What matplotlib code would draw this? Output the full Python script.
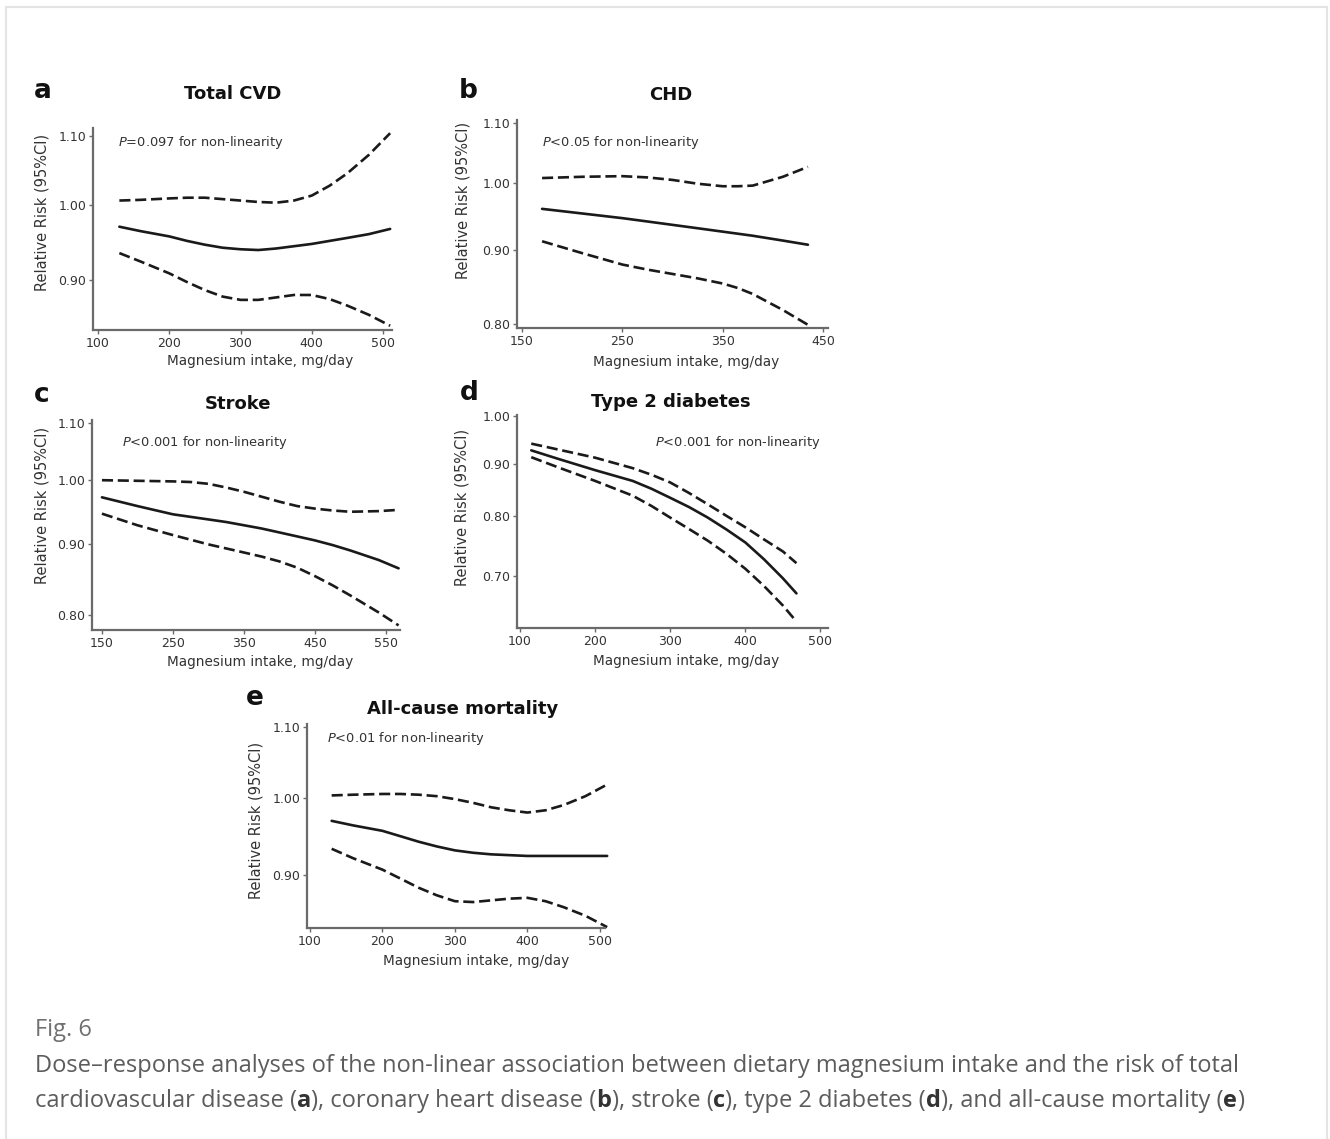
import matplotlib
matplotlib.use("Agg")
import matplotlib.pyplot as plt
from matplotlib.patches import Rectangle
from matplotlib.ticker import FixedLocator, NullLocator, FixedFormatter

W, H = 1330, 1139
plt.rcParams['font.family'] = ['DejaVu Sans']
plt.rcParams['mathtext.fontset'] = 'custom'
plt.rcParams['mathtext.it'] = 'DejaVu Sans:italic'
plt.rcParams['mathtext.rm'] = 'DejaVu Sans'

# ---------------- data ----------------
a_x = [130, 160, 200, 225, 250, 275, 300, 325, 350, 375, 400, 425, 450, 480, 510]
a_rr = [0.970, 0.964, 0.957, 0.951, 0.946, 0.942, 0.940, 0.939, 0.941, 0.944, 0.947, 0.951, 0.955, 0.960, 0.967]
a_hi = [1.006, 1.007, 1.009, 1.010, 1.010, 1.008, 1.006, 1.004, 1.003, 1.006, 1.013, 1.027, 1.045, 1.072, 1.105]
a_lo = [0.935, 0.924, 0.909, 0.898, 0.888, 0.880, 0.876, 0.876, 0.879, 0.882, 0.882, 0.877, 0.869, 0.858, 0.845]

b_x = [170, 210, 250, 275, 300, 325, 350, 365, 380, 410, 435]
b_rr = [0.960, 0.953, 0.946, 0.941, 0.936, 0.931, 0.926, 0.923, 0.920, 0.913, 0.907]
b_hi = [1.008, 1.010, 1.011, 1.009, 1.005, 0.999, 0.995, 0.995, 0.996, 1.010, 1.026]
b_lo = [0.912, 0.895, 0.879, 0.872, 0.866, 0.860, 0.853, 0.847, 0.839, 0.818, 0.799]

c_x = [150, 200, 250, 275, 300, 325, 350, 375, 400, 425, 450, 475, 500, 540, 568]
c_rr = [0.972, 0.958, 0.945, 0.941, 0.937, 0.933, 0.928, 0.923, 0.917, 0.911, 0.905, 0.898, 0.890, 0.876, 0.864]
c_hi = [1.000, 0.999, 0.998, 0.997, 0.994, 0.988, 0.981, 0.973, 0.965, 0.958, 0.954, 0.951, 0.949, 0.950, 0.952]
c_lo = [0.946, 0.928, 0.913, 0.906, 0.899, 0.893, 0.887, 0.881, 0.874, 0.865, 0.853, 0.840, 0.826, 0.803, 0.786]

d_x = [115, 150, 200, 250, 275, 300, 325, 350, 375, 400, 425, 450, 468]
d_rr = [0.927, 0.910, 0.887, 0.866, 0.851, 0.834, 0.817, 0.798, 0.777, 0.755, 0.727, 0.697, 0.674]
d_hi = [0.941, 0.929, 0.912, 0.891, 0.878, 0.863, 0.843, 0.822, 0.801, 0.781, 0.760, 0.740, 0.721]
d_lo = [0.913, 0.893, 0.866, 0.838, 0.819, 0.798, 0.778, 0.758, 0.736, 0.712, 0.685, 0.656, 0.633]

e_x = [130, 160, 200, 225, 250, 275, 300, 325, 350, 375, 400, 425, 450, 480, 510]
e_rr = [0.969, 0.963, 0.956, 0.949, 0.942, 0.936, 0.931, 0.928, 0.926, 0.925, 0.924, 0.924, 0.924, 0.924, 0.924]
e_hi = [1.003, 1.004, 1.005, 1.005, 1.004, 1.002, 0.998, 0.993, 0.987, 0.983, 0.980, 0.983, 0.990, 1.002, 1.018]
e_lo = [0.933, 0.921, 0.907, 0.896, 0.885, 0.876, 0.869, 0.868, 0.870, 0.872, 0.873, 0.869, 0.862, 0.852, 0.839]

letters = ['a', 'b', 'c', 'd', 'e']
titles = ['Total CVD', 'CHD', 'Stroke', 'Type 2 diabetes', 'All-cause mortality']
pvals = ['=0.097', '<0.05', '<0.001', '<0.001', '<0.01']
xticks_all = [[100, 200, 300, 400, 500], [150, 250, 350, 450],
              [150, 250, 350, 450, 550], [100, 200, 300, 400, 500],
              [100, 200, 300, 400, 500]]
yticks_all = [[0.90, 1.00, 1.10], [0.80, 0.90, 1.00, 1.10],
              [0.80, 0.90, 1.00, 1.10], [0.70, 0.80, 0.90, 1.00],
              [0.90, 1.00, 1.10]]
xlabel = 'Magnesium intake, mg/day'
ylabel = 'Relative Risk (95%CI)'
caption_fig = 'Fig. 6'
caption_1 = ('Dose\u2013response analyses of the non-linear association between '
             'dietary magnesium intake and the risk of total')
caption_2 = [('cardiovascular disease (', False), ('a', True), ('), coronary heart disease (', False),
             ('b', True), ('), stroke (', False), ('c', True), ('), type 2 diabetes (', False),
             ('d', True), ('), and all-cause mortality (', False), ('e', True), (')', False)]

series = [(a_x, a_rr, a_hi, a_lo), (b_x, b_rr, b_hi, b_lo), (c_x, c_rr, c_hi, c_lo),
          (d_x, d_rr, d_hi, d_lo), (e_x, e_rr, e_hi, e_lo)]

# ---------------- layout (pixels) ----------------
boxes = [(93, 392, 128, 330), (517, 828, 120, 328), (92, 400, 420, 630),
         (517, 828, 415, 628), (307, 605, 724, 928)]
xlims = [(93, 512.6), (145, 455), (136, 570), (96, 510), (96, 507)]
ylims = [(0.840, 1.113), (0.795, 1.105), (0.780, 1.105), (0.624, 1.003), (0.838, 1.105)]
letter_pos = [(43, 98), (468, 98), (42, 402), (469, 400), (255, 705)]
title_pos = [(233, 99), (671, 100), (238, 409), (671, 407), (463, 714)]
p_pos = [(118, 146, 'left'), (542, 146, 'left'), (122, 446, 'left'), (821, 446, 'right'),
         (327, 742, 'left')]
ylab_pos = [(42, 212), (463, 200), (42, 505), (462, 507), (256, 820)]
xlab_pos = [(260, 361), (686, 362), (260, 662), (686, 661), (476, 961)]

fig = plt.figure(figsize=(W / 100, H / 100), dpi=100)
fig.patches.append(Rectangle((6 / W, -0.01), 1321 / W, 1 - 7 / H + 0.01,
                             transform=fig.transFigure, fill=False,
                             edgecolor='#e4e4e4', linewidth=1.5))


def fx(x):
    return x / W


def fy(y):
    return 1 - y / H


spine_c = '#6a6a6a'
txt_c = '#333333'
for i in range(5):
    l, r, t, b = boxes[i]
    ax = fig.add_axes([l / W, 1 - b / H, (r - l) / W, (b - t) / H])
    ax.set_facecolor('none')
    xs, rr, hi, lo = series[i]
    ax.set_yscale('log')
    ax.plot(xs, rr, color='#1a1a1a', lw=1.9, solid_capstyle='round',
            solid_joinstyle='round', clip_on=False)
    ax.plot(xs, hi, color='#1a1a1a', lw=1.9, dashes=(4.2, 1.8), clip_on=False)
    ax.plot(xs, lo, color='#1a1a1a', lw=1.9, dashes=(4.2, 1.8), clip_on=False)
    ax.set_xlim(*xlims[i])
    ax.set_ylim(*ylims[i])
    for s in ['top', 'right']:
        ax.spines[s].set_visible(False)
    for s in ['left', 'bottom']:
        ax.spines[s].set_color(spine_c)
        ax.spines[s].set_linewidth(1.6)
    ax.xaxis.set_major_locator(FixedLocator(xticks_all[i]))
    ax.set_xticklabels([str(v) for v in xticks_all[i]])
    ax.yaxis.set_major_locator(FixedLocator(yticks_all[i]))
    ax.yaxis.set_major_formatter(FixedFormatter(['%.2f' % v for v in yticks_all[i]]))
    ax.yaxis.set_minor_locator(NullLocator())
    ax.tick_params(axis='both', length=3, width=1.0, color=spine_c, labelsize=9,
                   labelcolor=txt_c, pad=2)
    # texts
    fig.text(fx(letter_pos[i][0]), fy(letter_pos[i][1]), letters[i], fontsize=19,
             fontweight='bold', ha='center', va='baseline', color='#111111')
    fig.text(fx(title_pos[i][0]), fy(title_pos[i][1]), titles[i], fontsize=13,
             fontweight='bold', ha='center', va='baseline', color='#111111')
    px, py, pha = p_pos[i]
    fig.text(fx(px), fy(py), r'$\it{P}$' + pvals[i] + ' for non-linearity', fontsize=9.4,
             ha=pha, va='baseline', color=txt_c)
    fig.text(fx(ylab_pos[i][0]), fy(ylab_pos[i][1]), ylabel, fontsize=10.5, rotation=90,
             ha='center', va='center', color=txt_c)
    fig.text(fx(xlab_pos[i][0]), fy(xlab_pos[i][1]), xlabel, fontsize=9.8,
             ha='center', va='center', color=txt_c)

# ---------------- caption ----------------
cap_font = 'Open Sans'
cap_c = '#5c5c5c'
cap_fs = 17
fig.text(fx(35), fy(1030), caption_fig, fontsize=cap_fs, family=cap_font, color='#707070',
         ha='left', va='center')
fig.text(fx(35), fy(1066), caption_1, fontsize=cap_fs, family=cap_font, color=cap_c,
         ha='left', va='center')

fig.canvas.draw()
renderer = fig.canvas.get_renderer()
xpos = 35.0
for txt, bold in caption_2:
    t = fig.text(fx(xpos), fy(1101), txt, fontsize=cap_fs, family=cap_font,
                 color='#333333' if bold else cap_c,
                 fontweight='bold' if bold else 'normal', ha='left', va='center')
    bb = t.get_window_extent(renderer=renderer)
    xpos += bb.width

fig.savefig('out.png', dpi=100)
